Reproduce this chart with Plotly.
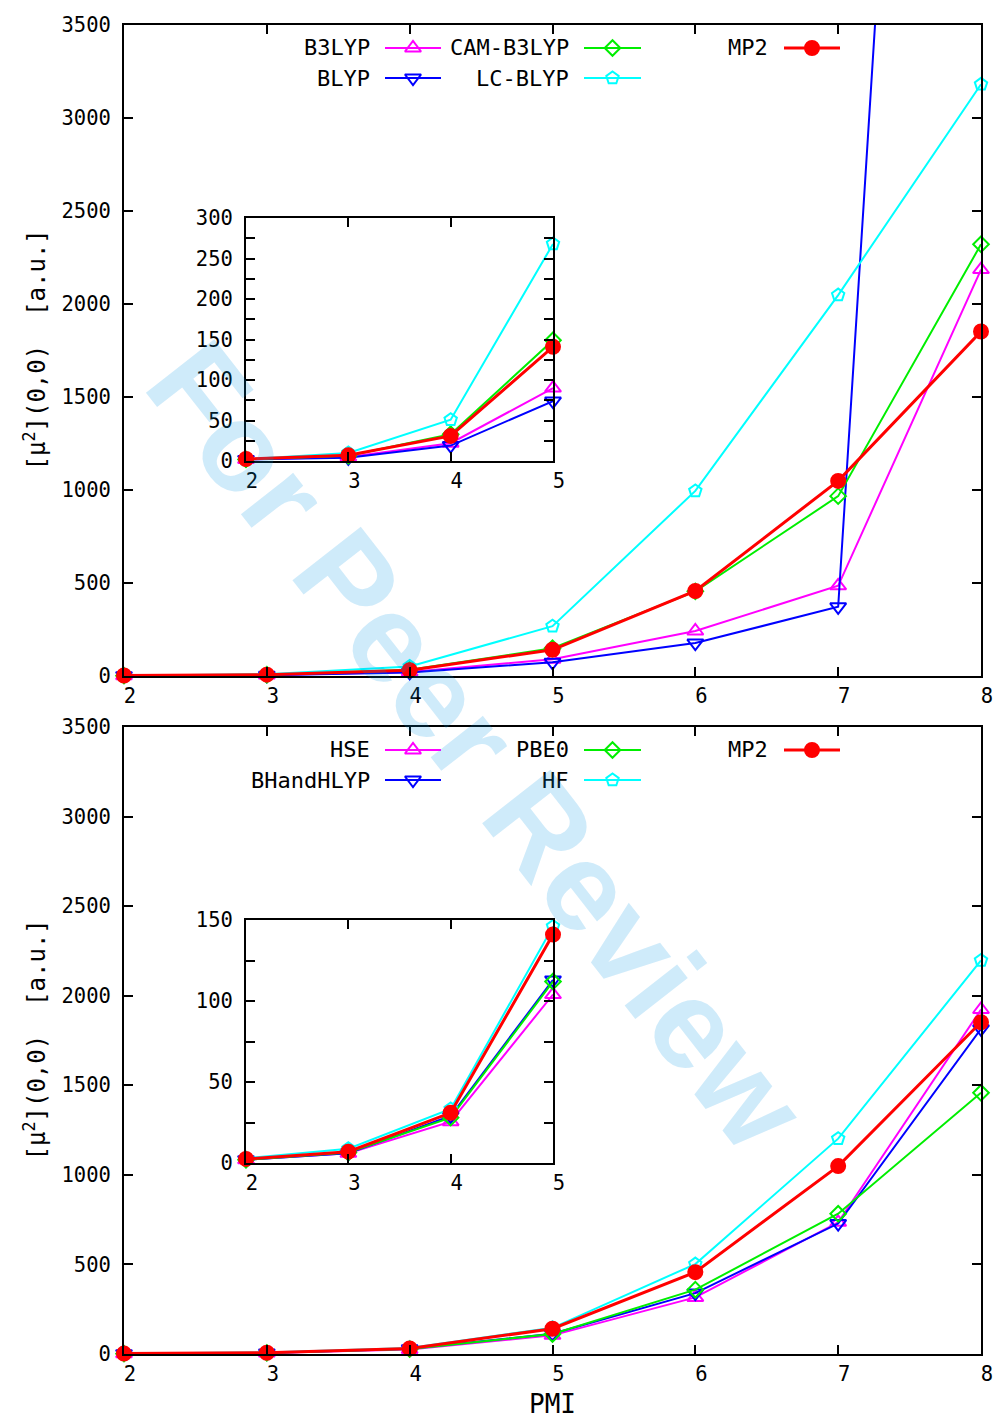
import plotly.graph_objects as go

# ---------------- data ----------------
pmi = [2, 3, 4, 5, 6, 7, 8]

# top panel
b3lyp = [2, 5, 22, 90, 242, 485, 2185]
blyp = [2, 4, 19, 74, 177, 372, 12500]
cam_b3lyp = [2, 6.5, 33, 149, 455, 967, 2321]
lc_blyp = [2, 10, 51, 268, 995, 2048, 3181]
mp2 = [2.5, 7, 31, 141, 457, 1049, 1852]

# bottom panel
hse = [2, 6, 25.5, 104, 316, 735, 1923]
bhandhlyp = [2, 6, 29, 113, 340, 728, 1815]
pbe0 = [2, 6.5, 28, 112, 359, 783, 1458]
hf = [3, 8.8, 33.4, 146, 502, 1202, 2197]

top_names = ["B3LYP", "BLYP", "CAM-B3LYP", "LC-BLYP", "MP2"]
top_series = [b3lyp, blyp, cam_b3lyp, lc_blyp, mp2]
bot_names = ["HSE", "BHandHLYP", "PBE0", "HF", "MP2"]
bot_series = [hse, bhandhlyp, pbe0, hf, mp2]

inset_n = 4  # inset shows PMI 2..5

# ---------------- style ----------------
W, H = 996, 1418
colors = ["#ff00ff", "#0000ff", "#00ee00", "#00ffff", "#ff0000"]
symbols = ["triangle-up-open", "triangle-down-open", "diamond-open", "pentagon-open", "circle"]
msizes = [14, 14, 12, 13, 14]
lwidths = [2, 2, 2, 2, 3]
MONO = "DejaVu Sans Mono"
TICKFONT = dict(family=MONO, size=20.5, color="black")


def px_x(p):
    return p / W


def px_y(p):
    return 1 - p / H


fig = go.Figure()

# axes ids: main top (x,y), inset top (x2,y2), main bottom (x3,y3), inset bottom (x4,y4), overlay (x5,y5)
panels = [
    ("x", "y", top_series, False),
    ("x2", "y2", top_series, True),
    ("x3", "y3", bot_series, False),
    ("x4", "y4", bot_series, True),
]
for xa, ya, series, inset in panels:
    for i, s in enumerate(series):
        xs = pmi[:inset_n] if inset else pmi
        ys = s[:inset_n] if inset else s
        fig.add_trace(go.Scatter(
            x=xs, y=ys, xaxis=xa, yaxis=ya, mode="lines+markers",
            line=dict(color=colors[i], width=lwidths[i]),
            marker=dict(symbol=symbols[i], size=msizes[i], color=colors[i],
                        line=dict(color=colors[i], width=2)),
            cliponaxis=False, showlegend=False, hoverinfo="skip"))

# ---------------- custom gnuplot-style keys ----------------
key_text_right = [372, 571, 770]
key_line = [(385, 441), (584, 641), (784, 840)]
key_slots = [(0, 0), (0, 1), (1, 0), (1, 1), (2, 0)]  # (column, row) per series
annotations = []
for rows, names in (((48, 78), top_names), ((750, 780), bot_names)):
    for i, name in enumerate(names):
        col, row = key_slots[i]
        yk = rows[row]
        x0, x1 = key_line[col]
        fig.add_trace(go.Scatter(
            x=[x0, x1], y=[yk, yk], xaxis="x5", yaxis="y5", mode="lines",
            line=dict(color=colors[i], width=lwidths[i]), showlegend=False, hoverinfo="skip"))
        fig.add_trace(go.Scatter(
            x=[(x0 + x1) / 2], y=[yk], xaxis="x5", yaxis="y5", mode="markers",
            marker=dict(symbol=symbols[i], size=msizes[i], color=colors[i],
                        line=dict(color=colors[i], width=2)),
            showlegend=False, hoverinfo="skip", cliponaxis=False))
        annotations.append(dict(
            text=name, x=px_x(key_text_right[col]), y=px_y(yk), xref="paper", yref="paper",
            xanchor="right", yanchor="middle", showarrow=False,
            font=dict(family=MONO, size=22, color="black")))

# axis labels
ylab = "[μ<sup>2</sup>](0,0)  [a.u.]"
for yc in ((25 + 676) / 2, (727 + 1354) / 2):
    annotations.append(dict(
        text=ylab, x=px_x(34), y=px_y(yc), xref="paper", yref="paper",
        xanchor="center", yanchor="middle", textangle=-90, showarrow=False,
        font=dict(family=MONO, size=24, color="black")))
annotations.append(dict(
    text="PMI", x=px_x((124 + 981) / 2), y=px_y(1404), xref="paper", yref="paper",
    xanchor="center", yanchor="middle", showarrow=False,
    font=dict(family=MONO, size=26, color="black")))

# watermark
annotations.append(dict(
    text="<b>For Peer Review</b>", x=px_x(477), y=px_y(745), xref="paper", yref="paper",
    xanchor="center", yanchor="middle", textangle=52, showarrow=False,
    font=dict(family="Liberation Sans", size=126, color="rgba(0,150,230,0.19)")))


def axis(domain, rng, dtick, anchor, minor=None, standoff=8, shift=0):
    d = dict(domain=domain, range=rng, dtick=dtick, tick0=0, showgrid=False, zeroline=False,
             showline=True, linecolor="black", linewidth=2, mirror="ticks",
             ticks="inside", ticklen=9, tickwidth=1.5, tickcolor="black",
             tickfont=TICKFONT, ticklabelstandoff=standoff, ticklabelshift=shift,
             fixedrange=True, automargin=False, anchor=anchor)
    if minor:
        d["minor"] = dict(dtick=minor, ticks="inside", ticklen=9, tickwidth=1.5,
                          tickcolor="black", showgrid=False)
    return d


xmain = [px_x(124), px_x(981)]
xins = [px_x(246), px_x(553)]

fig.update_layout(
    width=W, height=H, margin=dict(l=0, r=0, t=0, b=0, autoexpand=False),
    paper_bgcolor="white", plot_bgcolor="rgba(0,0,0,0)",
    showlegend=False,
    xaxis=axis(xmain, [2, 8], 1, "y", standoff=0, shift=6),
    yaxis=axis([px_y(676), px_y(25)], [0, 3500], 500, "x", standoff=7),
    xaxis2=axis(xins, [2, 5], 1, "y2", standoff=0, shift=6),
    yaxis2=axis([px_y(461), px_y(218)], [0, 300], 50, "x2", minor=25, standoff=7),
    xaxis3=axis(xmain, [2, 8], 1, "y3", standoff=0, shift=6),
    yaxis3=axis([px_y(1354), px_y(727)], [0, 3500], 500, "x3", standoff=7),
    xaxis4=axis(xins, [2, 5], 1, "y4", standoff=0, shift=6),
    yaxis4=axis([px_y(1163), px_y(920)], [0, 150], 50, "x4", minor=25, standoff=7),
    xaxis5=dict(domain=[0, 1], range=[0, W], visible=False, fixedrange=True,
                automargin=False, anchor="y5"),
    yaxis5=dict(domain=[0, 1], range=[H, 0], visible=False, fixedrange=True,
                automargin=False, anchor="x5"),
    annotations=annotations,
)

fig.write_html("out.html")
